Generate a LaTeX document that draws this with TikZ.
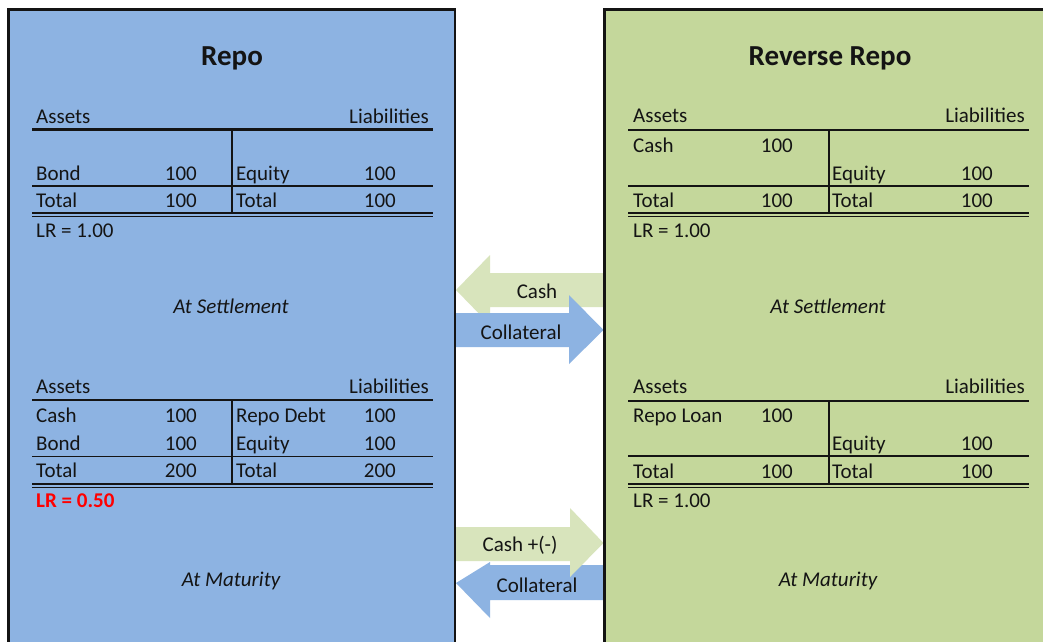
\documentclass[tikz,border=0pt]{standalone}
\usepackage{fontspec}
\setmainfont{Carlito}
\definecolor{boxblue}{RGB}{141,179,226}
\definecolor{boxgreen}{RGB}{196,215,155}
\definecolor{arrgreen}{RGB}{216,228,188}
\definecolor{txtcol}{RGB}{20,20,20}
\definecolor{lrred}{RGB}{255,0,0}
\newcommand\fsn{\fontsize{21}{25}\selectfont}
\newcommand\fst{\fontsize{29}{33}\selectfont\bfseries}
\tikzset{
  tw/.style={font=\fsn, inner sep=0, text=txtcol, anchor=base west},
  te/.style={font=\fsn, inner sep=0, text=txtcol, anchor=base east},
  tc/.style={font=\fsn, inner sep=0, text=txtcol, anchor=base},
  ttl/.style={font=\fst, inner sep=0, text=txtcol, anchor=base},
  captxt/.style={font=\fsn\itshape, inner sep=0, text=txtcol, anchor=base},
  thickrule/.style={line width=2.2pt, txtcol},
  thinrule/.style={line width=1.1pt, txtcol},
  panel/.style={line width=2.4pt, draw=txtcol},
}
\begin{document}
\begin{tikzpicture}[x=1pt,y=-1pt]
\clip (0,0) rectangle (1043,641);
\fill[white] (0,0) rectangle (1043,641);
% panels
\draw[panel, fill=boxblue] (8.5,9.5) rectangle (455,660);
\draw[panel, fill=boxgreen] (604.5,9.5) rectangle (1070,660);

% ---------- Left panel ----------
\node[ttl] (repo) at (232,65) {Repo};
% top table
\node[tw] (la1) at (36,123) {Assets};
\node[te] (ll1) at (429,123) {Liabilities};
\draw[thickrule] (32,129.5) -- (433,129.5);
\draw[thinrule] (232,129.5) -- (232,214);
\node[tw] (lbond1) at (36,180) {Bond};
\node[te] (lbond1v) at (197,180) {100};
\node[tw] (leq1) at (236,180) {Equity};
\node[te] (leq1v) at (396,180) {100};
\draw[thinrule] (32,186) -- (433,186);
\node[tw] (ltot1) at (36,207) {Total};
\node[te] (ltot1v) at (197,207) {100};
\node[tw] (ltotl1) at (236,207) {Total};
\node[te] (ltotl1v) at (396,207) {100};
\draw[thinrule] (32,213) -- (433,213);
\draw[thinrule] (32,216.5) -- (433,216.5);
\node[tw] (llr1) at (36,237) {LR = 1.00};
\node[captxt] (lset) at (231,313) {At Settlement};
% bottom table
\node[tw] (la2) at (36,393) {Assets};
\node[te] (ll2) at (429,393) {Liabilities};
\draw[thickrule] (32,400) -- (433,400);
\draw[thinrule] (232,400) -- (232,484.5);
\node[tw] (lcash2) at (36,422) {Cash};
\node[te] (lcash2v) at (197,422) {100};
\node[tw] (lrd2) at (236,422) {Repo Debt};
\node[te] (lrd2v) at (396,422) {100};
\node[tw] (lbond2) at (36,450) {Bond};
\node[te] (lbond2v) at (197,450) {100};
\node[tw] (leq2) at (236,450) {Equity};
\node[te] (leq2v) at (396,450) {100};
\draw[thinrule] (32,456.5) -- (433,456.5);
\node[tw] (ltot2) at (36,477) {Total};
\node[te] (ltot2v) at (197,477) {200};
\node[tw] (ltotl2) at (236,477) {Total};
\node[te] (ltotl2v) at (396,477) {200};
\draw[thinrule] (32,484) -- (433,484);
\draw[thinrule] (32,487.5) -- (433,487.5);
\node[tw, text=lrred, font=\fsn\bfseries] (llr2) at (36,507) {LR = 0.50};
\node[captxt] (lmat) at (231,586) {At Maturity};

% ---------- Right panel ----------
\node[ttl] (rrepo) at (830,65) {Reverse Repo};
% top table
\node[tw] (ra1) at (633,122) {Assets};
\node[te] (rl1) at (1025,122) {Liabilities};
\draw[thickrule] (628,130) -- (1029,130);
\draw[thinrule] (829,130) -- (829,214);
\node[tw] (rcash1) at (633,152) {Cash};
\node[te] (rcash1v) at (793,152) {100};
\node[tw] (req1) at (832,180) {Equity};
\node[te] (req1v) at (993,180) {100};
\draw[thinrule] (628,186) -- (1029,186);
\node[tw] (rtot1) at (633,207) {Total};
\node[te] (rtot1v) at (793,207) {100};
\node[tw] (rtotl1) at (832,207) {Total};
\node[te] (rtotl1v) at (993,207) {100};
\draw[thinrule] (628,213) -- (1029,213);
\draw[thinrule] (628,216.5) -- (1029,216.5);
\node[tw] (rlr1) at (633,237) {LR = 1.00};
\node[captxt] (rset) at (828,313) {At Settlement};
% bottom table
\node[tw] (ra2) at (633,393) {Assets};
\node[te] (rl2) at (1025,393) {Liabilities};
\draw[thickrule] (628,401) -- (1029,401);
\draw[thinrule] (829,401) -- (829,484.5);
\node[tw] (rrl2) at (633,422) {Repo Loan};
\node[te] (rrl2v) at (793,422) {100};
\node[tw] (req2) at (832,450) {Equity};
\node[te] (req2v) at (993,450) {100};
\draw[thinrule] (628,456) -- (1029,456);
\node[tw] (rtot2) at (633,478) {Total};
\node[te] (rtot2v) at (793,478) {100};
\node[tw] (rtotl2) at (832,478) {Total};
\node[te] (rtotl2v) at (993,478) {100};
\draw[thinrule] (628,484) -- (1029,484);
\draw[thinrule] (628,487.5) -- (1029,487.5);
\node[tw] (rlr2) at (633,507) {LR = 1.00};
\node[captxt] (rmat) at (828,586) {At Maturity};

% ---------- Arrows at settlement ----------
% Cash (green, pointing left)
\fill[arrgreen] (604,273) -- (490,273) -- (490,255) -- (456,290) -- (490,325) -- (490,307) -- (604,307) -- cycle;
% Collateral (blue, pointing right)
\fill[boxblue] (456,313) -- (569,313) -- (569,295) -- (603.5,330) -- (569,364) -- (569,347) -- (456,347) -- cycle;
\node[tc] (acash1) at (537,298) {Cash};
\node[tc] (acoll1) at (521,339) {Collateral};

% ---------- Arrows at maturity ----------
% Collateral (blue, pointing left)
\fill[boxblue] (604,565) -- (490,565) -- (490,562) -- (456,583) -- (490,618) -- (490,600) -- (604,600) -- cycle;
% Cash +(-) (green, pointing right)
\fill[arrgreen] (456,527) -- (570,527) -- (570,508) -- (603.5,543) -- (570,577) -- (570,561) -- (456,561) -- cycle;
\node[tc] (acash2) at (520,551) {Cash +(-)};
\node[tc] (acoll2) at (537,592) {Collateral};

% redraw panel edges over arrows
\draw[panel] (455,9.5) -- (455,660);
\draw[panel] (604.5,9.5) -- (604.5,660);
\end{tikzpicture}
\end{document}
